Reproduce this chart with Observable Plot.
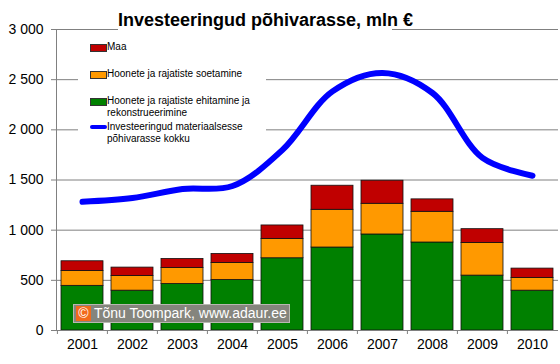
<!DOCTYPE html>
<html><head><meta charset="utf-8">
<script src="https://cdn.jsdelivr.net/npm/d3@7"></script>
<script src="https://cdn.jsdelivr.net/npm/@observablehq/plot@0.6"></script>
<style>
body{margin:0;background:#fff;}
#wrap{position:relative;width:560px;height:364px;font-family:"Liberation Sans",Arial,sans-serif;color:#000;}
#wrap svg{position:absolute;left:0;top:0;}
#title{position:absolute;left:118px;top:11px;width:274px;height:22px;background:#fff;text-align:center;font-weight:bold;font-size:18px;line-height:18px;white-space:nowrap;}
#legend{position:absolute;left:78px;top:36px;width:188px;height:112px;background:#fff;font-size:10px;line-height:12px;}
.item{position:absolute;left:12px;}
.sw{position:absolute;left:0;width:15px;height:6px;border:1px solid #333;}
.ln{position:absolute;left:0;width:17px;height:4px;border-radius:2px;background:#0000ff;}
.tx{position:absolute;left:17px;white-space:nowrap;}
#copy{position:absolute;left:73px;top:304px;width:215px;height:17px;background:#85857d;border:1px solid #b8b8b0;color:#fff;font-size:14px;line-height:17px;white-space:nowrap;}
#copy .c{position:absolute;left:2px;top:1px;width:15px;height:15px;background:#f26a1b;color:#fff;text-align:center;line-height:15px;font-size:14px;}
#copy .t{position:absolute;left:20px;top:0;}
</style>
</head><body>
<div id="wrap"></div>
<script>
const years = ["2001","2002","2003","2004","2005","2006","2007","2008","2009","2010"];
const ehitamine = [445,397,463,503,720,827,957,877,547,397];
const soetamine = [148,146,160,170,193,376,306,306,326,126];
const maa = [97,84,90,90,134,240,230,124,137,94];
const kokku = [1283,1320,1410,1440,1800,2383,2567,2367,1720,1543];
const seriesNames = ["Hoonete ja rajatiste ehitamine ja rekonstrueerimine","Hoonete ja rajatiste soetamine","Maa"];
const seriesColors = ["#008000","#ff9900","#c00000"];
const lineName = "Investeeringud materiaalsesse põhivarasse kokku";
const yTicks = [0,500,1000,1500,2000,2500,3000];
const titleText = "Investeeringud põhivarasse, mln €";
const copyText = "Tõnu Toompark, www.adaur.ee";

const rows = [];
years.forEach((y,i)=>{
  rows.push({year:y, s:seriesNames[0], v:ehitamine[i]});
  rows.push({year:y, s:seriesNames[1], v:soetamine[i]});
  rows.push({year:y, s:seriesNames[2], v:maa[i]});
});
const lineRows = years.map((y,i)=>({year:y, v:kokku[i]}));
const fmt = d => d3.format(",")(d).replace(/,/g," ");

const chart = Plot.plot({
  width:560, height:364,
  marginLeft:56, marginRight:2, marginTop:29, marginBottom:34,
  style:{fontFamily:"Liberation Sans, Arial, sans-serif", fontSize:"14px", color:"#000", background:"transparent"},
  x:{domain:years, paddingInner:0.16, paddingOuter:0.08, label:null},
  y:{domain:[0,3000], label:null},
  color:{domain:seriesNames, range:seriesColors},
  marks:[
    Plot.gridY(yTicks, {stroke:"#808080", strokeOpacity:1}),
    Plot.barY(rows, {x:"year", y:"v", fill:"s", stroke:"#111", strokeWidth:0.8}),
    Plot.lineY(lineRows, {x:"year", y:"v", stroke:"#0000ff", strokeWidth:6, curve:"catmull-rom", strokeLinecap:"round", strokeLinejoin:"round"}),
    Plot.ruleY([0], {stroke:"#808080"}),
    Plot.frame({anchor:"left", stroke:"#808080"}),
    Plot.axisY(yTicks, {tickSize:5, tickPadding:8, tickFormat:fmt, stroke:"#808080", fontSize:14, fill:"#000"}),
    Plot.axisX({tickSize:4, text:null, dx:-25.1, stroke:"#808080"}),
    Plot.axisX({tickSize:0, tickPadding:9, fontSize:14, fill:"#000"})
  ]
});
const wrap = document.getElementById("wrap");
wrap.appendChild(chart);

const t = document.createElement("div"); t.id="title"; t.textContent=titleText; wrap.appendChild(t);

const lg = document.createElement("div"); lg.id="legend";
const items = [
  {name:seriesNames[2], color:seriesColors[2], top:5},
  {name:seriesNames[1], color:seriesColors[1], top:32},
  {name:"Hoonete ja rajatiste ehitamine ja\nrekonstrueerimine", color:seriesColors[0], top:59},
  {name:"Investeeringud materiaalsesse\npõhivarasse kokku", line:true, top:85}
];
items.forEach(it=>{
  const d = document.createElement("div"); d.className="item"; d.style.top=it.top+"px";
  const s = document.createElement("div");
  if (it.line) { s.className="ln"; s.style.top="4px"; }
  else { s.className="sw"; s.style.background=it.color; s.style.top="3px"; }
  const x = document.createElement("div"); x.className="tx"; x.style.top="0px";
  x.innerHTML = it.name.split("\n").join("<br>");
  d.appendChild(s); d.appendChild(x); lg.appendChild(d);
});
wrap.appendChild(lg);

const cp = document.createElement("div"); cp.id="copy";
cp.innerHTML = '<span class="c">©</span><span class="t"></span>';
cp.querySelector(".t").textContent = copyText;
wrap.appendChild(cp);
</script>
</body></html>
